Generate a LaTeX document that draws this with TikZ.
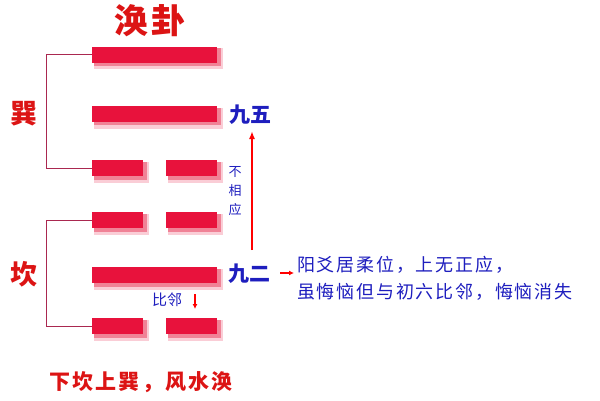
\documentclass[tikz,border=0pt]{standalone}
\usepackage{fontspec}
\newfontfamily\cjk{Noto Sans CJK SC}
\newfontfamily\cjkw[LetterSpace=10]{Noto Sans CJK SC}
\usetikzlibrary{arrows.meta}
\definecolor{barred}{RGB}{232,18,60}
\definecolor{shadowpink}{RGB}{240,130,150}
\definecolor{shadowpale}{RGB}{250,205,214}
\definecolor{txtred}{RGB}{220,20,20}
\definecolor{txtblue}{RGB}{30,30,190}
\definecolor{brk}{RGB}{170,40,80}
\begin{document}
\begin{tikzpicture}[x=1pt,y=-1pt,
  yaobar/.style={fill=barred, draw=none, inner sep=0pt, minimum height=16pt},
  fullbar/.style={minimum width=125pt},
  halfbar/.style={minimum width=51pt},
  shadowA/.style={fill=shadowpale, draw=none},
  shadowB/.style={fill=shadowpink, draw=none},
  bracket/.style={draw=brk, line width=1pt},
  redarrow/.style={draw=red, line width=1.6pt, -{Latex[length=8pt,width=6pt]}},
  smallarrow/.style={draw=red, line width=1.3pt, -{Latex[length=5pt,width=5pt]}},
  redlabel/.style={text=txtred},
  bluelabel/.style={text=txtblue},
  every node/.style={inner sep=0pt}]
\useasboundingbox (0,0) rectangle (600,400);
% title
\node[redlabel, font=\cjkw\bfseries\fontsize{34}{36}\selectfont] (title) at (150,21) {涣卦};
% soft shadows of the bars
\fill[shadowA] (94,48) rectangle (223,69);
\fill[shadowB] (94,48) rectangle (220.5,65.5);
\fill[shadowA] (94,108) rectangle (223,129);
\fill[shadowB] (94,108) rectangle (220.5,125);
\foreach \yy in {168,220,326}{
  \fill[shadowA] (94,\yy-6) rectangle (149,\yy+15);
  \fill[shadowB] (94,\yy-6) rectangle (146.5,\yy+11.5);
  \fill[shadowA] (168,\yy-6) rectangle (223,\yy+15);
  \fill[shadowB] (168,\yy-6) rectangle (220.5,\yy+11.5);
}
\fill[shadowA] (94,269) rectangle (223,290);
\fill[shadowB] (94,269) rectangle (220.5,286.5);
% bars (top to bottom)
\node[yaobar, fullbar] (y6) at (154.5,54.5) {};
\node[yaobar, fullbar] (y5) at (154.5,114) {};
\node[yaobar, halfbar] (y4l) at (117.5,168) {};
\node[yaobar, halfbar] (y4r) at (191.5,168) {};
\node[yaobar, halfbar] (y3l) at (117.5,220) {};
\node[yaobar, halfbar] (y3r) at (191.5,220) {};
\node[yaobar, fullbar] (y2) at (154.5,275) {};
\node[yaobar, halfbar] (y1l) at (117.5,326) {};
\node[yaobar, halfbar] (y1r) at (191.5,326) {};
% brackets
\coordinate (ua) at (46,54.5);
\coordinate (ub) at (46,168);
\coordinate (la) at (46,220);
\coordinate (lb) at (46,326);
\draw[bracket] (y6.west) -- (ua) -- (ub) -- (y4l.west);
\draw[bracket] (y3l.west) -- (la) -- (lb) -- (y1l.west);
% trigram names
\node[redlabel, font=\cjk\bfseries\fontsize{27}{28}\selectfont] (xun) at (24,114) {巽};
\node[redlabel, font=\cjk\bfseries\fontsize{27}{28}\selectfont] (kan) at (24,274) {坎};
% line labels
\node[bluelabel, font=\cjk\bfseries\fontsize{21}{22}\selectfont] (jiuwu) at (250,115) {九五};
\node[bluelabel, font=\cjk\bfseries\fontsize{21}{22}\selectfont] (jiuer) at (249,274) {九二};
\coordinate (arrS) at (252,250);
\coordinate (arrE) at (252,131);
\draw[redarrow] (arrS) -- (arrE);
\node[bluelabel, font=\cjk\fontsize{13}{19}\selectfont, align=center] (buxiang) at (235,191) {不\\相\\应};
% commentary
\coordinate (sa) at (280,273);
\coordinate (sb) at (294,273);
\draw[smallarrow] (sa) -- (sb);
\node[bluelabel, font=\cjkw\fontsize{18}{27}\selectfont, anchor=west, align=left] (comment) at (297,278)
  {阳爻居柔位，上无正应，\\虽悔恼但与初六比邻，悔恼消失};
% bilin
\node[bluelabel, font=\cjk\fontsize{15}{16}\selectfont] (bilin) at (167,300) {比邻};
\coordinate (ba) at (195,294);
\coordinate (bb) at (195,309);
\draw[smallarrow] (ba) -- (bb);
% bottom caption
\node[redlabel, font=\cjkw\bfseries\fontsize{21}{22}\selectfont] (caption) at (141,382) {下坎上巽，风水涣};
\end{tikzpicture}
\end{document}
